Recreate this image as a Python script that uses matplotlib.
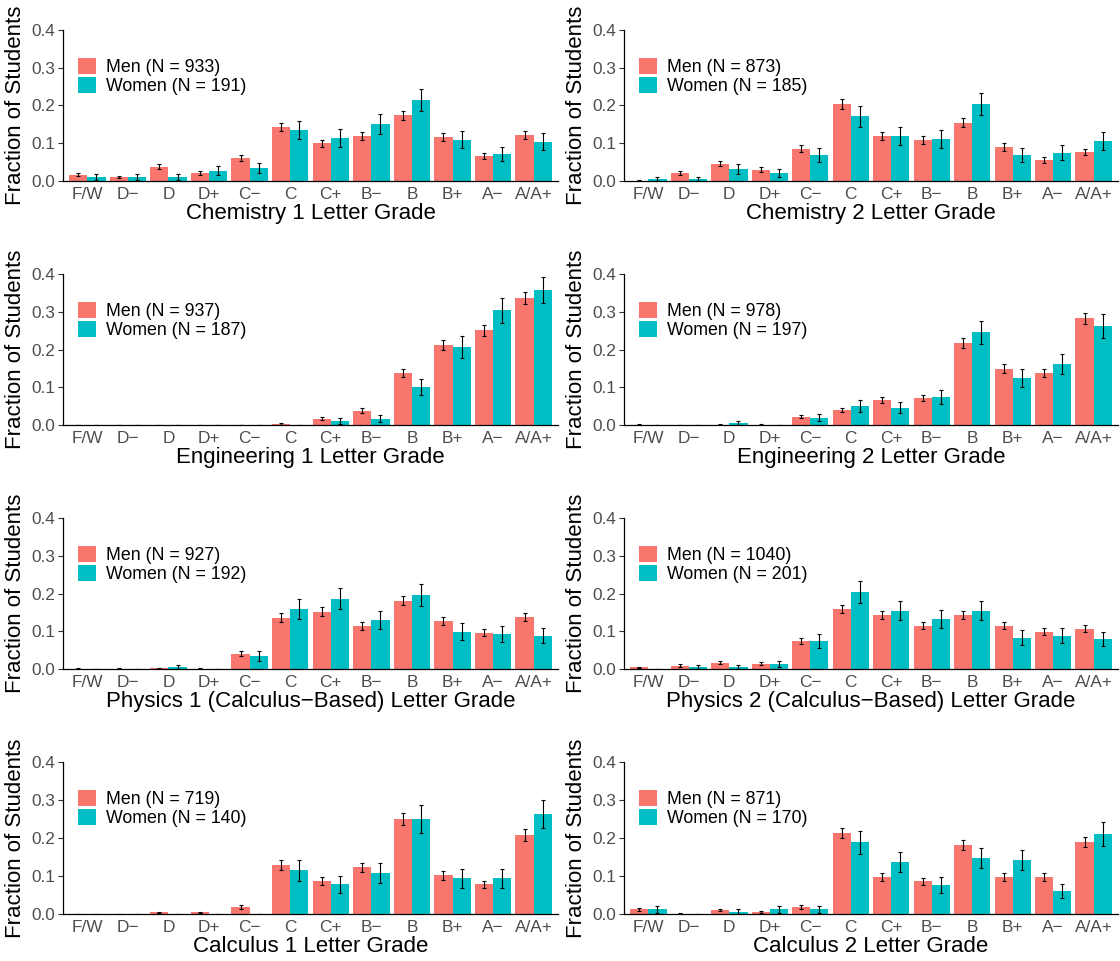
# grade distributions by gender, 4 course pairs, ggplot-like styling

import matplotlib as mpl
mpl.use('Agg')
import matplotlib.pyplot as plt
from matplotlib.patches import Patch
import numpy as np

plt.rcParams['font.family'] = ['Liberation Sans', 'DejaVu Sans']

grades = ["F/W", "D\u2212", "D", "D+", "C\u2212", "C", "C+", "B\u2212", "B", "B+", "A\u2212", "A/A+"]

# fraction of students per grade
chem1_men = [0.017, 0.011, 0.038, 0.022, 0.061, 0.143, 0.100, 0.119, 0.174, 0.117, 0.067, 0.122]
chem1_women = [0.011, 0.011, 0.011, 0.027, 0.035, 0.135, 0.114, 0.151, 0.214, 0.109, 0.072, 0.104]
chem2_men = [0.001, 0.022, 0.046, 0.030, 0.085, 0.204, 0.119, 0.109, 0.154, 0.090, 0.056, 0.077]
chem2_women = [0.005, 0.005, 0.032, 0.022, 0.069, 0.172, 0.119, 0.111, 0.204, 0.069, 0.075, 0.106]
eng1_men = [0.0, 0.0, 0.0, 0.0, 0.0, 0.003, 0.017, 0.038, 0.138, 0.211, 0.251, 0.336]
eng1_women = [0.0, 0.0, 0.0, 0.0, 0.0, 0.0, 0.011, 0.017, 0.101, 0.207, 0.304, 0.357]
eng2_men = [0.001, 0.0, 0.001, 0.001, 0.022, 0.040, 0.067, 0.072, 0.217, 0.149, 0.138, 0.283]
eng2_women = [0.0, 0.0, 0.005, 0.0, 0.019, 0.051, 0.046, 0.075, 0.246, 0.125, 0.162, 0.262]
phys1_men = [0.001, 0.001, 0.002, 0.001, 0.041, 0.136, 0.152, 0.115, 0.181, 0.128, 0.096, 0.138]
phys1_women = [0.0, 0.0, 0.005, 0.0, 0.035, 0.159, 0.186, 0.130, 0.196, 0.099, 0.093, 0.088]
phys2_men = [0.004, 0.009, 0.017, 0.014, 0.075, 0.159, 0.144, 0.115, 0.144, 0.115, 0.099, 0.107]
phys2_women = [0.0, 0.005, 0.005, 0.014, 0.075, 0.204, 0.154, 0.133, 0.154, 0.083, 0.088, 0.080]
calc1_men = [0.0, 0.0, 0.004, 0.004, 0.018, 0.129, 0.086, 0.123, 0.250, 0.102, 0.078, 0.208]
calc1_women = [0.0, 0.0, 0.0, 0.0, 0.0, 0.115, 0.078, 0.107, 0.250, 0.094, 0.094, 0.263]
calc2_men = [0.012, 0.001, 0.010, 0.005, 0.018, 0.213, 0.097, 0.086, 0.181, 0.097, 0.097, 0.189]
calc2_women = [0.012, 0.0, 0.006, 0.012, 0.012, 0.189, 0.137, 0.076, 0.147, 0.142, 0.060, 0.211]

n_men = [933, 873, 937, 978, 927, 1040, 719, 871]
n_women = [191, 185, 187, 197, 192, 201, 140, 170]

courses = ["Chemistry 1", "Chemistry 2", "Engineering 1", "Engineering 2",
           "Physics 1 (Calculus\u2212Based)", "Physics 2 (Calculus\u2212Based)",
           "Calculus 1", "Calculus 2"]
men_data = [chem1_men, chem2_men, eng1_men, eng2_men, phys1_men, phys2_men, calc1_men, calc2_men]
women_data = [chem1_women, chem2_women, eng1_women, eng2_women,
              phys1_women, phys2_women, calc1_women, calc2_women]

men_col = '#F8766D'
women_col = '#00BFC4'
gray = '#4D4D4D'

W, H = 1120, 961
fig = plt.figure(figsize=(W / 100, H / 100), dpi=100)

cols_px = [(63, 558), (624, 1118)]
rows_px = [(30, 181), (274, 425), (518, 669), (762, 914)]

x = np.arange(len(grades))
bw = 0.45

for k in range(8):
    r, c = k // 2, k % 2
    x0, x1 = cols_px[c]
    y0, y1 = rows_px[r]
    ax = fig.add_axes([x0 / W, 1 - y1 / H, (x1 - x0) / W, (y1 - y0) / H])

    pm = np.array(men_data[k])
    pw = np.array(women_data[k])
    # error bars = binomial standard error of each fraction
    se_m = np.sqrt(pm * (1 - pm) / n_men[k])
    se_w = np.sqrt(pw * (1 - pw) / n_women[k])

    ax.bar(x - bw / 2, pm, bw, color=men_col, linewidth=0)
    ax.bar(x + bw / 2, pw, bw, color=women_col, linewidth=0)
    ax.errorbar(x - bw / 2, pm, yerr=se_m, fmt='none', ecolor='black',
                elinewidth=0.8, capsize=1.6, capthick=0.8)
    ax.errorbar(x + bw / 2, pw, yerr=se_w, fmt='none', ecolor='black',
                elinewidth=0.8, capsize=1.6, capthick=0.8)

    ax.set_xlim(-0.6, 11.6)
    ax.set_ylim(0, 0.4)
    ax.set_yticks([0, 0.1, 0.2, 0.3, 0.4])
    ax.set_yticklabels(["0.0", "0.1", "0.2", "0.3", "0.4"])
    ax.set_xticks(x)
    ax.set_xticklabels(grades)

    for s in ['top', 'right']:
        ax.spines[s].set_visible(False)
    for s in ['left', 'bottom']:
        ax.spines[s].set_linewidth(0.9)
        ax.spines[s].set_color('black')

    ax.tick_params(axis='y', length=3.5, width=0.8, color='#333333',
                   labelsize=12.4, labelcolor=gray, pad=2)
    ax.tick_params(axis='x', length=0, labelsize=12.4, labelcolor=gray, pad=4)

    ax.set_xlabel(courses[k] + " Letter Grade", fontsize=16, color='black')
    ax.set_ylabel("Fraction of Students", fontsize=16, color='black')
    ax.xaxis.set_label_coords(0.5, -0.145)
    ax.yaxis.set_label_coords(-0.075, 0.5)

    handles = [Patch(facecolor=men_col, edgecolor='none'),
               Patch(facecolor=women_col, edgecolor='none')]
    labels = ["Men (N = %d)" % n_men[k], "Women (N = %d)" % n_women[k]]
    ax.legend(handles, labels, loc='upper left', bbox_to_anchor=(0.03, 0.815),
              frameon=False, fontsize=12.8, handlelength=1.0, handleheight=1.0,
              handletextpad=0.6, labelspacing=0.05, borderpad=0, borderaxespad=0)

plt.savefig("out.png", dpi=100)
